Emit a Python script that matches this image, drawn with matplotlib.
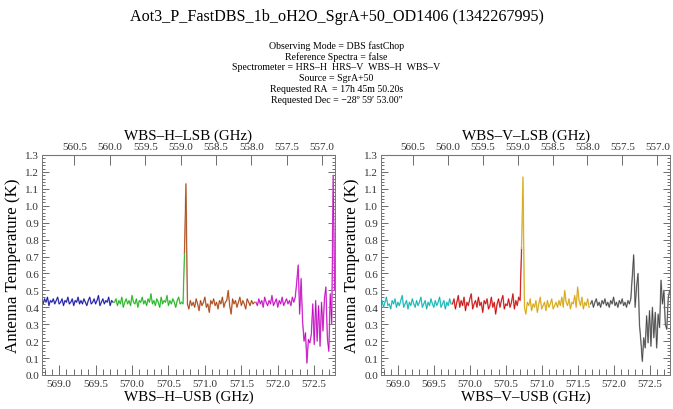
import numpy as np
import matplotlib
matplotlib.use("Agg")
import matplotlib.pyplot as plt
from matplotlib.ticker import MultipleLocator, FixedLocator
from matplotlib.colors import to_rgb

STEP = 0.02

# ---------------- WBS-H (USB frequency start, values in K) ----------------
h_blue_start = 568.76
h_blue = [0.44,0.42,0.45,0.43,0.46,0.41,0.44,0.43,0.45,0.42,
          0.44,0.46,0.42,0.43,0.45,0.41,0.44,0.43,0.46,0.42,
          0.43,0.45,0.41,0.44,0.43,0.46,0.42,0.44,0.42,0.45,
          0.43,0.41,0.44,0.46,0.42,0.43,0.45,0.42,0.44,0.47,
          0.41,0.43,0.45,0.42,0.44,0.43,0.46,0.41,0.44,0.43]
h_green_start = 569.76
h_green = [0.43,0.45,0.41,0.44,0.42,0.46,0.40,0.43,0.45,0.42,
           0.44,0.41,0.47,0.43,0.42,0.45,0.40,0.44,0.43,0.46,
           0.42,0.44,0.41,0.45,0.43,0.48,0.42,0.44,0.41,0.45,
           0.43,0.40,0.46,0.42,0.44,0.43,0.47,0.41,0.44,0.42,
           0.45,0.43,0.40,0.44,0.46,0.42,0.43,0.42,0.72]
h_brown_start = 570.72
h_brown = [0.72,1.13,0.42,0.39,0.44,0.41,0.43,0.40,0.45,0.42,
           0.38,0.44,0.41,0.43,0.46,0.40,0.42,0.37,0.44,0.42,
           0.45,0.41,0.43,0.39,0.44,0.42,0.46,0.40,0.43,0.44,
           0.50,0.41,0.36,0.45,0.42,0.44,0.40,0.43,0.46,0.41,
           0.44,0.42,0.39,0.45,0.43,0.41,0.44,0.42,0.43]
h_magenta_start = 571.70
h_magenta = [0.43,0.41,0.45,0.42,0.44,0.40,0.46,0.43,0.41,0.44,
             0.42,0.47,0.41,0.43,0.45,0.40,0.44,0.42,0.46,0.41,
             0.43,0.45,0.42,0.44,0.41,0.46,0.43,
             0.46,0.55,0.65,0.36,0.57,0.32,0.20,0.25,0.07,0.21,
             0.19,0.24,0.42,0.18,0.44,0.20,0.41,0.17,0.43,0.26,
             0.45,0.52,0.22,0.14,0.48,0.30,1.18,0.50]

# ---------------- WBS-V ----------------
v_cyan_start = 568.76
v_cyan = [0.41,0.44,0.40,0.43,0.46,0.41,0.42,0.39,0.44,0.42,
          0.45,0.40,0.43,0.41,0.44,0.47,0.40,0.42,0.44,0.39,
          0.43,0.41,0.45,0.42,0.40,0.44,0.41,0.43,0.46,0.40,
          0.42,0.44,0.39,0.43,0.41,0.45,0.42,0.40,0.44,0.41,
          0.43,0.46,0.40,0.42,0.44,0.39,0.43,0.41,0.45,0.42]
v_red_start = 569.76
v_red = [0.42,0.45,0.39,0.43,0.47,0.40,0.44,0.41,0.46,0.38,
         0.43,0.41,0.45,0.48,0.39,0.42,0.44,0.40,0.46,0.41,
         0.43,0.37,0.44,0.42,0.45,0.39,0.41,0.46,0.40,0.43,
         0.36,0.42,0.45,0.40,0.44,0.47,0.39,0.42,0.41,0.45,
         0.40,0.43,0.48,0.39,0.44,0.41,0.46,0.44,0.75]
v_gold_start = 570.72
v_gold = [0.75,1.17,0.40,0.36,0.43,0.41,0.45,0.38,0.42,0.40,
          0.44,0.37,0.42,0.46,0.39,0.41,0.43,0.38,0.44,0.40,
          0.42,0.45,0.39,0.41,0.43,0.40,0.44,0.41,0.46,0.40,
          0.50,0.43,0.41,0.45,0.39,0.43,0.42,0.47,0.40,0.52,
          0.44,0.41,0.46,0.39,0.43,0.41,0.45,0.40]
v_gray_start = 571.68
v_gray = [0.42,0.44,0.40,0.43,0.45,0.41,0.43,0.40,0.44,0.42,
          0.45,0.41,0.43,0.40,0.44,0.42,0.46,0.41,0.43,0.40,
          0.44,0.42,0.45,0.41,0.43,0.40,0.44,0.42,
          0.45,0.58,0.71,0.40,0.52,0.60,0.30,0.20,0.08,0.22,
          0.16,0.35,0.19,0.38,0.17,0.40,0.22,0.37,0.16,0.36,
          0.28,0.56,0.42,0.50,0.30,0.27,0.45,0.50]

h_segments = [(h_blue_start, h_blue, '#0a0aa0'),
              (h_green_start, h_green, '#12b012'),
              (h_brown_start, h_brown, '#a43c06'),
              (h_magenta_start, h_magenta, '#c000c0')]
v_segments = [(v_cyan_start, v_cyan, '#00b0b0'),
              (v_red_start, v_red, '#c80000'),
              (v_gold_start, v_gold, '#d4a000'),
              (v_gray_start, v_gray, '#404040')]

lsb_ticks = [560.5, 560.0, 559.5, 559.0, 558.5, 558.0, 557.5, 557.0]

title = "Aot3_P_FastDBS_1b_oH2O_SgrA+50_OD1406 (1342267995)"
info_lines = ["Observing Mode = DBS fastChop",
              "Reference Spectra = false",
              "Spectrometer = HRS\u2013H  HRS\u2013V  WBS\u2013H  WBS\u2013V",
              "Source = SgrA+50",
              "Requested RA  = 17h 45m 50.20s",
              "Requested Dec = \u221228\u00ba 59\u2032 53.00\u2033"]

XLIM = (568.765, 572.785)
YLIM = (0.0, 1.3)

plt.rcParams['font.family'] = ['Liberation Serif', 'DejaVu Serif']

fig = plt.figure(figsize=(6.73, 4.10), dpi=100)

fig.text(0.5, 1 - 17/410, title, ha='center', va='center', fontsize=11.6)
for i, line in enumerate(info_lines):
    fig.text(0.5, 1 - (46 + i*10.9)/410, line, ha='center', va='center', fontsize=7.1)


def lighten(c, f=0.55):
    r, g, b = to_rgb(c)
    return (r + (1-r)*f, g + (1-g)*f, b + (1-b)*f)


def lsb(u):
    return 560.5 - 1.03*(np.asarray(u) - 569.21)


def usb(l):
    return 569.21 + (560.5 - np.asarray(l))/1.03


def make_panel(rect, segments, name):
    ax = fig.add_axes(rect)
    for start, vals, col in segments:
        x = start + STEP*np.arange(len(vals))
        ax.plot(x, vals, color=lighten(col), lw=1.1)
        ax.plot(x, vals, color=col, lw=0.5)
    ax.set_xlim(*XLIM)
    ax.set_ylim(*YLIM)
    ax.xaxis.set_major_locator(MultipleLocator(0.5))
    ax.xaxis.set_minor_locator(MultipleLocator(0.1))
    ax.yaxis.set_major_locator(MultipleLocator(0.1))
    ax.yaxis.set_minor_locator(MultipleLocator(0.02))
    ax.xaxis.set_major_formatter(plt.FuncFormatter(lambda v, p: f"{v:.1f}"))
    ax.yaxis.set_major_formatter(plt.FuncFormatter(lambda v, p: f"{v:.1f}"))
    ax.tick_params(axis='x', which='both', direction='in', top=False, bottom=True,
                   labelsize=8, pad=3, color='#555555', labelcolor='#333333')
    ax.tick_params(axis='x', which='major', length=7, width=0.6)
    ax.tick_params(axis='x', which='minor', length=4, width=0.6)
    ax.tick_params(axis='y', which='both', direction='in', left=True, right=True,
                   labelsize=8, pad=2, color='#555555', labelcolor='#333333')
    ax.tick_params(axis='y', which='major', length=5, width=0.6)
    ax.tick_params(axis='y', which='minor', length=2.5, width=0.6)
    for s in ax.spines.values():
        s.set_color('#777777')
        s.set_linewidth(0.7)
    ax.set_xlabel(f"{name}\u2013USB (GHz)", fontsize=10.8, labelpad=1)
    ax.set_ylabel("Antenna Temperature (K)", fontsize=12.2, labelpad=3)
    sec = ax.secondary_xaxis('top', functions=(lsb, usb))
    sec.xaxis.set_major_locator(FixedLocator(lsb_ticks))
    sec.xaxis.set_minor_locator(FixedLocator([]))
    sec.xaxis.set_major_formatter(plt.FuncFormatter(lambda v, p: f"{v:.1f}"))
    sec.tick_params(axis='x', which='major', direction='in', length=7, width=0.6,
                    labelsize=8, pad=3, color='#555555', labelcolor='#333333')
    sec.spines['top'].set_color('#777777')
    sec.set_xlabel(f"{name}\u2013LSB (GHz)", fontsize=10.8, labelpad=2)
    return ax


H = 220/410
B = 34/410
make_panel([42/673, B, 293/673, H], h_segments, "WBS\u2013H")
make_panel([381/673, B, 289/673, H], v_segments, "WBS\u2013V")

fig.savefig("out.png", dpi=100)
